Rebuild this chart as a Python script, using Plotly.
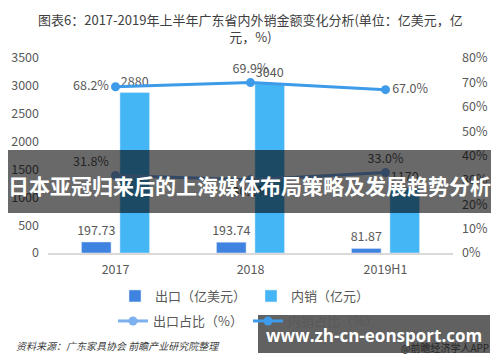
import plotly.graph_objects as go

categories = ["2017", "2018", "2019H1"]
export_usd = [197.73, 193.74, 81.87]        # 出口（亿美元）
domestic_cny = [2880, 3040, 1170]           # 内销（亿元）
export_share = [31.8, 30.1, 33.0]           # 出口占比（%）
domestic_share = [68.2, 69.9, 67.0]         # 内销占比（%）
left_ticks = [0, 500, 1000, 1500, 2000, 2500, 3000, 3500]
right_ticks = [0, 10, 20, 30, 40, 50, 60, 70, 80]
right_labels = [f"{v}%" for v in right_ticks]

FONT = "Noto Sans CJK SC, Noto Sans, sans-serif"
GRAY = "#595959"

# page body has an 8px margin: figure is drawn at (8, 8)
OFF = 8
W, H = 484, 346
# plot area in reference pixels: x 48..453, y 58..253
L, R, T, B = 48, 453, 58, 253
def px(x):
    return (x - L) / (R - L)
def py(y):
    return (B - y) / (B - T)

fig = go.Figure()

fig.add_trace(go.Bar(
    x=categories, y=export_usd, name="出口（亿美元）",
    marker=dict(color="#3f83e0"),
    text=[f"{v:.2f}" for v in export_usd], textposition="outside",
    constraintext="none",
    textfont=dict(size=12.5, color=GRAY, family=FONT), cliponaxis=False,
    legend="legend",
))
fig.add_trace(go.Bar(
    x=categories, y=domestic_cny, name="内销（亿元）",
    marker=dict(color="#44b5f5"),
    text=[str(v) for v in domestic_cny], textposition="outside",
    constraintext="none",
    textfont=dict(size=12.5, color=GRAY, family=FONT), cliponaxis=False,
    legend="legend",
))
fig.add_trace(go.Scatter(
    x=categories, y=export_share, name="出口占比（%）", yaxis="y2",
    mode="lines+markers+text",
    line=dict(color="#7cb0ee", width=3), marker=dict(size=9, color="#7cb0ee"),
    text=[f"{v:.1f}%" for v in export_share],
    textposition=["top left", "bottom center", "top center"],
    textfont=dict(size=12.5, color=GRAY, family=FONT), cliponaxis=False,
    legend="legend2",
))
fig.add_trace(go.Scatter(
    x=categories, y=domestic_share, name="内销占比（%）", yaxis="y2",
    mode="lines+markers+text",
    line=dict(color="#3d9be9", width=3), marker=dict(size=9, color="#3d9be9"),
    text=[f"{v:.1f}%" for v in domestic_share],
    textposition=["middle left", "top center", "middle right"],
    textfont=dict(size=12.5, color=GRAY, family=FONT), cliponaxis=False,
    legend="legend2",
))

fig.update_layout(
    width=W, height=H,
    margin=dict(l=L - OFF, r=W - (R - OFF), t=T - OFF, b=H - (B - OFF), autoexpand=False),
    paper_bgcolor="white", plot_bgcolor="white",
    font=dict(family=FONT, size=12, color=GRAY),
    barmode="group", bargap=0.43, bargroupgap=0.23,
    xaxis=dict(
        showgrid=False, showline=True, linecolor="#d9d9d9", linewidth=1.5,
        ticks="", tickfont=dict(size=12.5, color=GRAY), ticklabelstandoff=4,
        automargin=False,
    ),
    yaxis=dict(
        range=[0, 3500], tickvals=left_ticks, showgrid=False, zeroline=False,
        showline=False, ticks="", tickfont=dict(size=12.5, color=GRAY),
        ticklabelstandoff=8, automargin=False,
    ),
    yaxis2=dict(
        range=[0, 80], tickvals=right_ticks, ticktext=right_labels, overlaying="y",
        side="right", showgrid=False, zeroline=False, showline=False, ticks="",
        tickfont=dict(size=12.5, color=GRAY), ticklabelstandoff=8, automargin=False,
    ),
    legend=dict(
        orientation="h", x=px(245), xanchor="center", y=py(296), yanchor="middle",
        font=dict(size=13, color=GRAY, family=FONT), bgcolor="rgba(0,0,0,0)",
        itemwidth=30, traceorder="normal",
    ),
    legend2=dict(
        orientation="h", x=px(248), xanchor="center", y=py(321), yanchor="middle",
        font=dict(size=13, color=GRAY, family=FONT), bgcolor="rgba(0,0,0,0)",
        itemwidth=30, traceorder="normal",
    ),
    showlegend=True,
)

# title
fig.add_annotation(
    text="图表6：2017-2019年上半年广东省内外销金额变化分析(单位：亿美元，亿<br>元，%)",
    xref="paper", yref="paper", x=px(250), y=py(8), xanchor="center", yanchor="top",
    showarrow=False, align="center",
    font=dict(size=13, color="#404040", family=FONT),
)

# source note
fig.add_annotation(
    text="<i>资料来源：广东家具协会 前瞻产业研究院整理</i>",
    xref="paper", yref="paper", x=px(14), y=py(345), xanchor="left", yanchor="middle",
    showarrow=False, font=dict(size=10, color="#404040", family=FONT),
)
fig.add_annotation(
    text="@前瞻经济学人APP",
    xref="paper", yref="paper", x=px(491), y=py(347), xanchor="right", yanchor="middle",
    showarrow=False, font=dict(size=10, color="#262626", family=FONT),
)

# overlay bands
fig.add_shape(type="rect", xref="paper", yref="paper", layer="above",
              x0=px(8), x1=px(491), y0=py(213), y1=py(150),
              fillcolor="rgba(0,0,0,0.59)", line=dict(width=0))
fig.add_shape(type="rect", xref="paper", yref="paper", layer="above",
              x0=px(258), x1=px(490), y0=py(353), y1=py(315),
              fillcolor="rgba(0,0,0,0.62)", line=dict(width=0))

fig.add_annotation(
    text="<b>日本亚冠归来后的上海媒体布局策略及发展趋势分析</b>",
    xref="paper", yref="paper", x=px(249), y=py(185), xanchor="center", yanchor="middle",
    showarrow=False, font=dict(size=21, color="white", family=FONT),
)
fig.add_annotation(
    text="<b>www.zh-cn-eonsport.com</b>",
    xref="paper", yref="paper", x=px(374), y=py(335), xanchor="center", yanchor="middle",
    showarrow=False, font=dict(size=17, color="white", family="Open Sans, sans-serif"),
)

fig.write_html("out.html")
